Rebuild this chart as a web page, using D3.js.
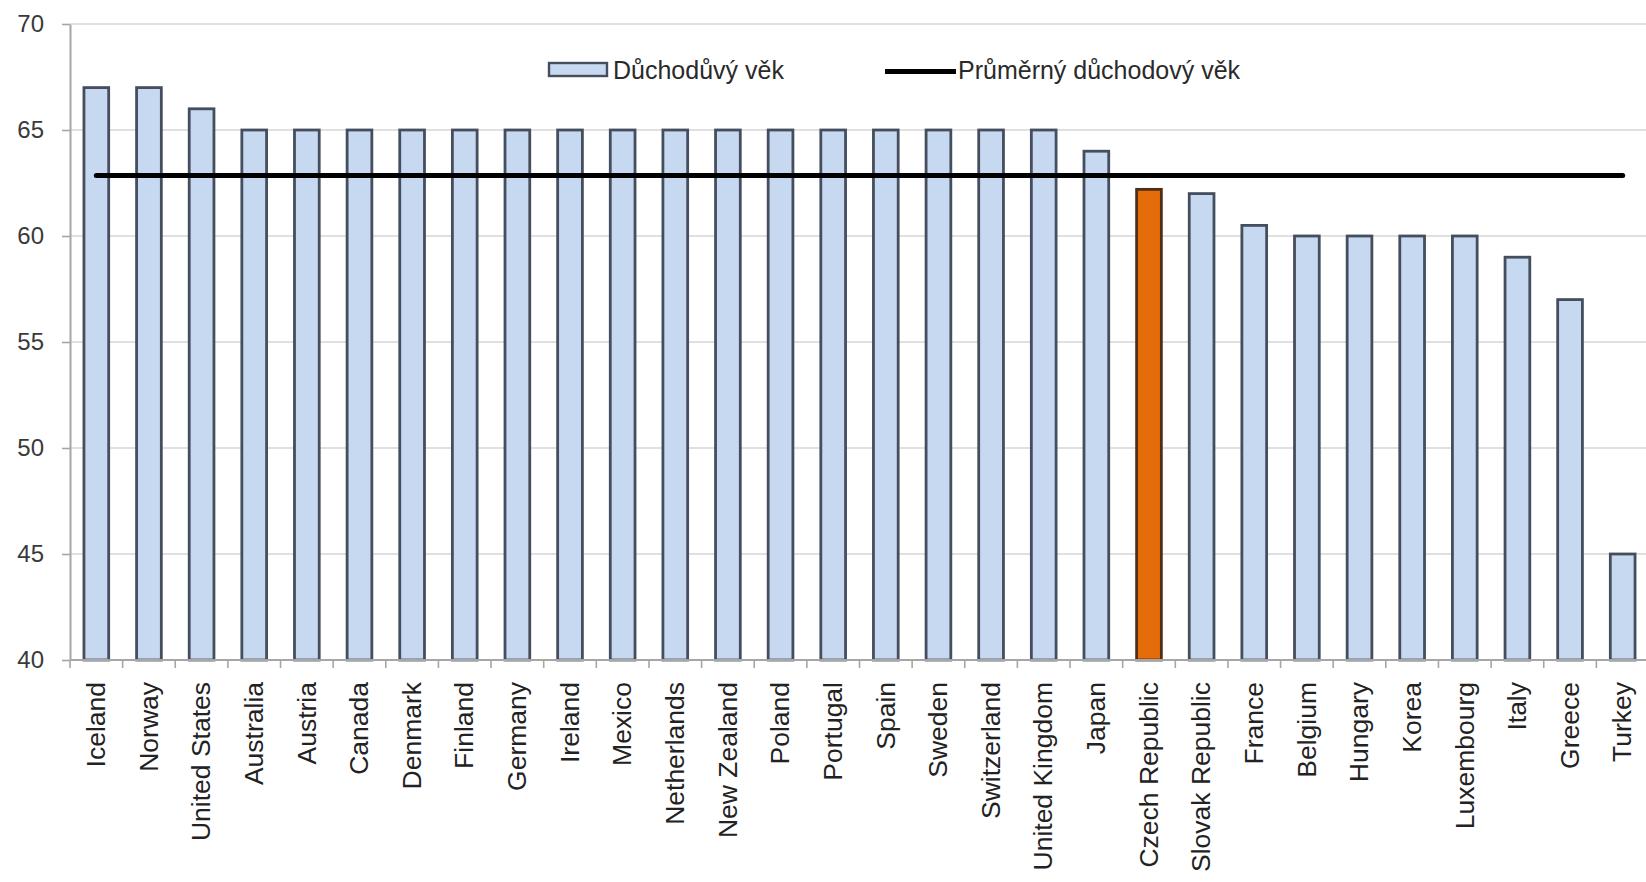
<!DOCTYPE html>
<html>
<head>
<meta charset="utf-8">
<script src="https://cdn.jsdelivr.net/npm/d3@7"></script>
<style>
  html, body { margin: 0; padding: 0; background: #ffffff; }
  svg { display: block; }
  text { font-family: "Liberation Sans", Arial, sans-serif; }
</style>
</head>
<body>
<svg id="chart" width="1646" height="882"></svg>
<script>
// Statutory retirement age by country, with the overall average as a line
const countries = ["Iceland", "Norway", "United States", "Australia", "Austria", "Canada",
  "Denmark", "Finland", "Germany", "Ireland", "Mexico", "Netherlands", "New Zealand",
  "Poland", "Portugal", "Spain", "Sweden", "Switzerland", "United Kingdom", "Japan",
  "Czech Republic", "Slovak Republic", "France", "Belgium", "Hungary", "Korea",
  "Luxembourg", "Italy", "Greece", "Turkey"];
const retirementAge = [67, 67, 66, 65, 65, 65, 65, 65, 65, 65, 65, 65, 65, 65, 65, 65,
  65, 65, 65, 64, 62.2, 62, 60.5, 60, 60, 60, 60, 59, 57, 45];
const averageAge = 62.85;
const highlighted = ["Czech Republic"];
const yTicks = [40, 45, 50, 55, 60, 65, 70];
const legendLabels = ["Důchodůvý věk", "Průměrný důchodový věk"];

const svg = d3.select("#chart");
const plotLeft = 70, plotRight = 1649, plotTop = 24, plotBottom = 660;

const x = d3.scaleBand()
  .domain(countries)
  .range([plotLeft, plotRight])
  .paddingInner(0.53)
  .paddingOuter(0.265);

const y = d3.scaleLinear().domain([40, 70]).range([plotBottom, plotTop]);

// horizontal gridlines
svg.append("g")
  .selectAll("line")
  .data(yTicks.filter(t => t > 40))
  .join("line")
  .attr("x1", plotLeft).attr("x2", plotRight)
  .attr("y1", d => y(d)).attr("y2", d => y(d))
  .attr("stroke", "#d6d6d6").attr("stroke-width", 1.6);

// y axis
const yAxis = svg.append("g")
  .attr("transform", `translate(${plotLeft},0)`)
  .call(d3.axisLeft(y).tickValues(yTicks).tickSize(8).tickPadding(18).tickSizeOuter(0));
yAxis.select(".domain").attr("stroke", "#a6a6a6").attr("stroke-width", 2);
yAxis.selectAll(".tick line").attr("stroke", "#a6a6a6").attr("stroke-width", 1.6);
yAxis.selectAll(".tick text")
  .attr("font-size", 24).attr("fill", "#3a3a3a")
  .attr("font-family", "'Liberation Sans', Arial, sans-serif");

// bars
svg.append("g")
  .selectAll("rect")
  .data(countries.map((c, i) => ({ c, v: retirementAge[i] })))
  .join("rect")
  .attr("x", d => x(d.c))
  .attr("width", x.bandwidth())
  .attr("y", d => y(d.v))
  .attr("height", d => y(40) - y(d.v))
  .attr("fill", d => highlighted.includes(d.c) ? "#e46c0a" : "#c6d9f1")
  .attr("stroke", d => highlighted.includes(d.c) ? "#4e2e16" : "#454e5e")
  .attr("stroke-width", 2.8);

// x axis with boundary ticks
const xAxisG = svg.append("g").attr("transform", `translate(0,${plotBottom})`);
xAxisG.append("line")
  .attr("x1", plotLeft).attr("x2", plotRight)
  .attr("stroke", "#a6a6a6").attr("stroke-width", 2);
const step = x.step();
xAxisG.selectAll("line.tick")
  .data(d3.range(countries.length + 1))
  .join("line")
  .attr("class", "tick")
  .attr("x1", i => plotLeft + i * step).attr("x2", i => plotLeft + i * step)
  .attr("y1", 0).attr("y2", 8)
  .attr("stroke", "#a6a6a6").attr("stroke-width", 1.6);

xAxisG.selectAll("text")
  .data(countries)
  .join("text")
  .attr("transform", d => `translate(${x(d) + x.bandwidth() / 2},22) rotate(-90) scale(1.06,1)`)
  .attr("text-anchor", "end")
  .attr("dominant-baseline", "central")
  .attr("font-size", 25)
  .attr("fill", "#222")
  .text(d => d);

// average line from first to last bar centre
const cx = c => x(c) + x.bandwidth() / 2;
svg.append("line")
  .attr("x1", cx(countries[0])).attr("x2", cx(countries[countries.length - 1]))
  .attr("y1", y(averageAge)).attr("y2", y(averageAge))
  .attr("stroke", "#000").attr("stroke-width", 5).attr("stroke-linecap", "round");

// legend
const legend = svg.append("g");
legend.append("rect")
  .attr("x", 549).attr("y", 63).attr("width", 58).attr("height", 13)
  .attr("fill", "#c6d9f1").attr("stroke", "#454e5e").attr("stroke-width", 2.4);
legend.append("text")
  .attr("x", 613).attr("y", 79)
  .attr("font-size", 25).attr("fill", "#2a2a2a")
  .text(legendLabels[0]);
legend.append("line")
  .attr("x1", 885).attr("x2", 956).attr("y1", 71.5).attr("y2", 71.5)
  .attr("stroke", "#000").attr("stroke-width", 5);
legend.append("text")
  .attr("x", 958).attr("y", 79)
  .attr("font-size", 25).attr("fill", "#2a2a2a")
  .text(legendLabels[1]);
</script>
</body>
</html>
